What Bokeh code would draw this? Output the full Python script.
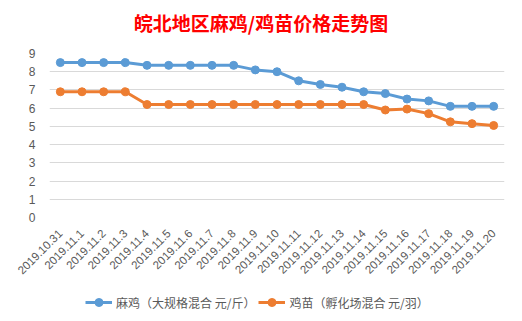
from bokeh.plotting import figure
from bokeh.layouts import column
from bokeh.models import FactorRange, Range1d, Legend, LegendItem, FixedTicker, Div
from bokeh.embed import file_html
from bokeh.resources import INLINE

dates = ["2019.10.31", "2019.11.1", "2019.11.2", "2019.11.3", "2019.11.4", "2019.11.5",
         "2019.11.6", "2019.11.7", "2019.11.8", "2019.11.9", "2019.11.10", "2019.11.11",
         "2019.11.12", "2019.11.13", "2019.11.14", "2019.11.15", "2019.11.16", "2019.11.17",
         "2019.11.18", "2019.11.19", "2019.11.20"]
maji = [8.5, 8.5, 8.5, 8.5, 8.35, 8.35, 8.35, 8.35, 8.35, 8.1, 8.0, 7.5,
        7.3, 7.15, 6.9, 6.8, 6.5, 6.4, 6.1, 6.1, 6.1]
jimiao = [6.9, 6.9, 6.9, 6.9, 6.2, 6.2, 6.2, 6.2, 6.2, 6.2, 6.2, 6.2,
          6.2, 6.2, 6.2, 5.9, 5.95, 5.7, 5.25, 5.15, 5.05]
series_names = ["麻鸡（大规格混合 元/斤）", "鸡苗（孵化场混合 元/羽）"]
yticks = [0, 1, 2, 3, 4, 5, 6, 7, 8, 9]
title_text = "皖北地区麻鸡/鸡苗价格走势图"

BLUE = "#5B9BD5"
ORANGE = "#ED7D31"
GRAY = "#595959"

title_div = Div(text=title_text, width=522, height=46, margin=0,
                styles={"color": "#FF0000", "font-family": "Noto Sans CJK SC",
                        "font-size": "19px", "font-weight": "bold",
                        "text-align": "center", "line-height": "46px",
                        "background-color": "white"})

p = figure(width=522, height=234, x_range=FactorRange(*dates), y_range=Range1d(0, 9),
           output_backend="svg", toolbar_location=None,
           min_border_left=49, min_border_right=18, min_border_top=7, min_border_bottom=61)
p.x_range.range_padding = 0

p.outline_line_color = None
p.background_fill_color = "white"
p.border_fill_color = "white"

p.xgrid.grid_line_color = None
p.ygrid.grid_line_color = "#D9D9D9"
p.ygrid.grid_line_width = 1

p.yaxis.ticker = FixedTicker(ticks=yticks)
p.yaxis.axis_line_color = None
p.yaxis.major_tick_line_color = None
p.yaxis.minor_tick_line_color = None
p.yaxis.major_label_text_color = GRAY
p.yaxis.major_label_text_font = "Liberation Sans"
p.yaxis.major_label_text_font_size = "12px"
p.yaxis.major_label_standoff = 8

p.xaxis.axis_line_color = None
p.xaxis.major_tick_line_color = None
p.xaxis.major_label_orientation = 0.785398
p.xaxis.major_label_text_color = GRAY
p.xaxis.major_label_text_font = "Liberation Sans"
p.xaxis.major_label_text_font_size = "11.5px"
p.xaxis.major_label_standoff = 8

p.line(dates, maji, line_color=BLUE, line_width=3)
p.scatter(dates, maji, size=8, fill_color=BLUE, line_color=BLUE)
p.line(dates, jimiao, line_color=ORANGE, line_width=3)
p.scatter(dates, jimiao, size=8, fill_color=ORANGE, line_color=ORANGE)

# legend strip below the chart (series drawn out of view, only legend visible)
q = figure(width=522, height=41, x_range=FactorRange(*dates), y_range=Range1d(100, 101),
           output_backend="svg", toolbar_location=None,
           min_border_left=0, min_border_right=0, min_border_top=0, min_border_bottom=0)
q.axis.visible = False
q.grid.grid_line_color = None
q.outline_line_color = None
q.border_fill_color = "white"
l1 = q.line(dates, maji, line_color=BLUE, line_width=3)
s1 = q.scatter(dates, maji, size=8, fill_color=BLUE, line_color=BLUE)
l2 = q.line(dates, jimiao, line_color=ORANGE, line_width=3)
s2 = q.scatter(dates, jimiao, size=8, fill_color=ORANGE, line_color=ORANGE)

legend = Legend(items=[LegendItem(label=series_names[0], renderers=[l1, s1]),
                       LegendItem(label=series_names[1], renderers=[l2, s2])],
                orientation="horizontal", location=(36, 9))
legend.border_line_color = None
legend.background_fill_alpha = 0
legend.label_text_font = "Noto Sans CJK SC"
legend.label_text_font_size = "12px"
legend.label_text_color = GRAY
legend.glyph_width = 27
legend.spacing = 3
legend.label_standoff = 4
legend.margin = 0
legend.padding = 2
q.add_layout(legend, "center")

layout = column(title_div, p, q, spacing=0)
open("out.html", "w").write(file_html(layout, INLINE))
